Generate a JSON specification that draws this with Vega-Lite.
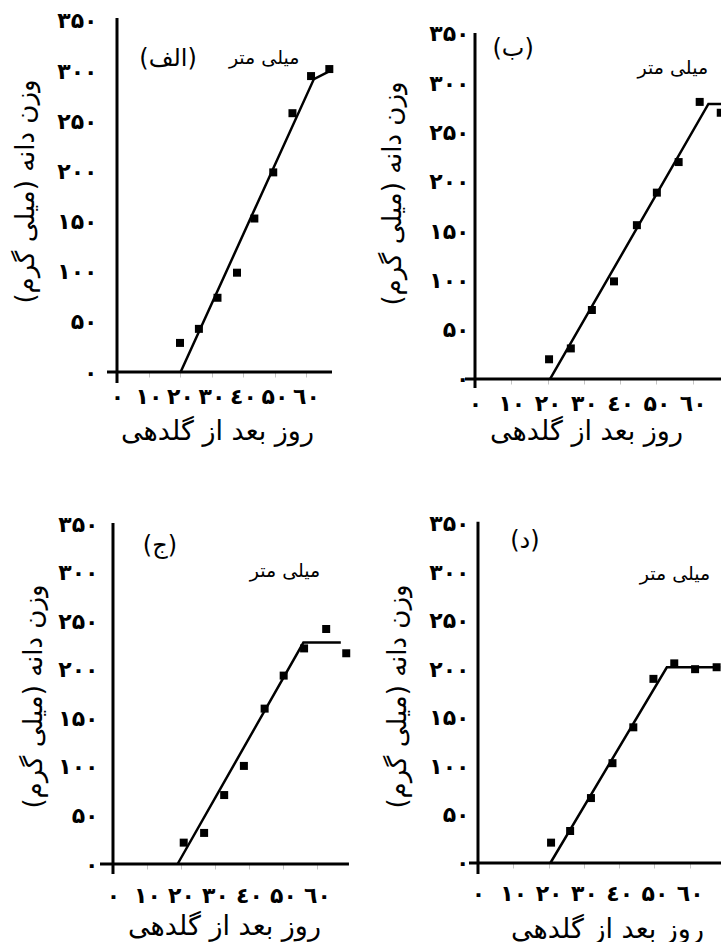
{
  "$schema": "https://vega.github.io/schema/vega-lite/v6.json",
  "background": "white",
  "padding": {"left": 12, "top": 9, "right": 0, "bottom": 0},
  "config": {
    "view": {"stroke": null},
    "axis": {"grid": false, "domain": false, "labelFont": "DejaVu Sans", "titleFont": "DejaVu Sans", "labelColor": "black", "titleColor": "black", "labelOverlap": false, "labelFlush": false, "labelBound": false, "titleFontWeight": "normal", "labelFontWeight": "bold"},
    "axisX": {"tickColor": "#c4c4c4", "tickSize": 5, "tickWidth": 1, "labelFontSize": 22, "titleFontSize": 27, "titleBaseline": "middle", "titleAlign": "center", "labelBaseline": "top"},
    "axisY": {"ticks": false, "tickSize": 0, "labelFontSize": 22, "titleFontSize": 26, "titleBaseline": "middle", "titleAlign": "center", "titleAngle": 270, "labelAlign": "right", "labelBaseline": "middle"},
    "text": {"font": "DejaVu Sans"}
  },
  "datasets": {
    "origin": [{"panel": "A", "day": 0, "weight": 0}, {"panel": "B", "day": 0, "weight": 0}, {"panel": "C", "day": 0, "weight": 0}, {"panel": "D", "day": 0, "weight": 0}],
    "points": [
      {"panel": "A", "day": 20.0, "weight": 29}, {"panel": "A", "day": 26.0, "weight": 43}, {"panel": "A", "day": 31.9, "weight": 74},
      {"panel": "A", "day": 38.1, "weight": 99}, {"panel": "A", "day": 43.6, "weight": 153}, {"panel": "A", "day": 49.6, "weight": 199},
      {"panel": "A", "day": 55.7, "weight": 258}, {"panel": "A", "day": 61.6, "weight": 295}, {"panel": "A", "day": 67.4, "weight": 302},
      {"panel": "B", "day": 20.4, "weight": 20}, {"panel": "B", "day": 26.4, "weight": 31}, {"panel": "B", "day": 32.2, "weight": 70},
      {"panel": "B", "day": 38.3, "weight": 99}, {"panel": "B", "day": 44.6, "weight": 156}, {"panel": "B", "day": 50.1, "weight": 189},
      {"panel": "B", "day": 56.1, "weight": 220}, {"panel": "B", "day": 61.9, "weight": 281}, {"panel": "B", "day": 67.7, "weight": 270},
      {"panel": "C", "day": 20.8, "weight": 22}, {"panel": "C", "day": 26.8, "weight": 32}, {"panel": "C", "day": 32.7, "weight": 71},
      {"panel": "C", "day": 38.5, "weight": 101}, {"panel": "C", "day": 44.6, "weight": 160}, {"panel": "C", "day": 50.2, "weight": 194},
      {"panel": "C", "day": 56.2, "weight": 222}, {"panel": "C", "day": 62.7, "weight": 242}, {"panel": "C", "day": 68.6, "weight": 217},
      {"panel": "D", "day": 20.7, "weight": 21}, {"panel": "D", "day": 26.1, "weight": 33}, {"panel": "D", "day": 32.0, "weight": 67},
      {"panel": "D", "day": 38.1, "weight": 103}, {"panel": "D", "day": 44.0, "weight": 140}, {"panel": "D", "day": 49.7, "weight": 190},
      {"panel": "D", "day": 55.6, "weight": 206}, {"panel": "D", "day": 61.5, "weight": 200}, {"panel": "D", "day": 67.6, "weight": 202}
    ],
    "fit": [
      {"panel": "A", "day": 20.2, "weight": 0}, {"panel": "A", "day": 62.5, "weight": 292}, {"panel": "A", "day": 67.5, "weight": 300},
      {"panel": "B", "day": 20.7, "weight": 0}, {"panel": "B", "day": 64.3, "weight": 279}, {"panel": "B", "day": 68.5, "weight": 279},
      {"panel": "C", "day": 19.0, "weight": 0}, {"panel": "C", "day": 56.0, "weight": 228}, {"panel": "C", "day": 67.0, "weight": 228},
      {"panel": "D", "day": 20.5, "weight": 0}, {"panel": "D", "day": 53.5, "weight": 202}, {"panel": "D", "day": 68.6, "weight": 202}
    ],
    "notes": [
      {"panel": "A", "kind": "unit", "label": "میلی متر", "day": 46.7, "weight": 313}, {"panel": "A", "kind": "tag", "label": "(الف)", "day": 16.2, "weight": 312},
      {"panel": "B", "kind": "unit", "label": "میلی متر", "day": 54.5, "weight": 315}, {"panel": "B", "kind": "tag", "label": "(ب)", "day": 10.5, "weight": 335},
      {"panel": "C", "kind": "unit", "label": "میلی متر", "day": 50.6, "weight": 302}, {"panel": "C", "kind": "tag", "label": "(ج)", "day": 13.8, "weight": 327},
      {"panel": "D", "kind": "unit", "label": "میلی متر", "day": 55.8, "weight": 298}, {"panel": "D", "kind": "tag", "label": "(د)", "day": 13.3, "weight": 332}
    ]
  },
  "bounds": "flush",
  "columns": 2,
  "spacing": {"row": 133, "column": 109},
  "concat": [
    {
      "width": 256, "height": 370,
      "encoding": {
        "x": {"field": "day", "type": "quantitative", "scale": {"domain": [-5.397, 75.87], "nice": false, "zero": false},
          "axis": {"values": [0, 10, 20, 30, 40, 50, 60], "offset": -16, "labelPadding": 9, "title": "روز بعد از گلدهی", "titleX": 117, "titleY": 59,
            "labelExpr": "datum.value==0?'۰':datum.value==10?'۱۰':datum.value==20?'۲۰':datum.value==30?'۳۰':datum.value==40?'٤۰':datum.value==50?'۵۰':'٦۰'"}},
        "y": {"field": "weight", "type": "quantitative", "scale": {"domain": [-15.95, 352.9], "nice": false, "zero": false},
          "axis": {"values": [0, 50, 100, 150, 200, 250, 300, 350], "labelPadding": 3, "title": "وزن دانه (میلی گرم)\u200f", "titleX": -75, "titleY": 173,
            "labelExpr": "datum.value==0?'۰\u00a0\u00a0':datum.value==50?'۵۰':datum.value==100?'۱۰۰':datum.value==150?'۱۵۰':datum.value==200?'۲۰۰':datum.value==250?'۲۵۰':datum.value==300?'۳۰۰':'۳۵۰'"}}
      },
      "layer": [
        {"data": {"name": "origin"}, "transform": [{"filter": "datum.panel == 'A'"}], "mark": {"type": "rule", "stroke": "black", "strokeWidth": 3}, "encoding": {"x": {"datum": 0}, "y": {"datum": -11}, "y2": {"datum": 352.9}}},
        {"data": {"name": "origin"}, "transform": [{"filter": "datum.panel == 'A'"}], "mark": {"type": "rule", "stroke": "black", "strokeWidth": 3}, "encoding": {"y": {"datum": 0}, "x": {"datum": -3.17}, "x2": {"datum": 68.25}}},
        {"data": {"name": "fit"}, "transform": [{"filter": "datum.panel == 'A'"}], "mark": {"type": "line", "color": "black", "strokeWidth": 2.5}},
        {"data": {"name": "points"}, "transform": [{"filter": "datum.panel == 'A'"}], "mark": {"type": "point", "shape": "square", "filled": true, "size": 64, "color": "black", "opacity": 1}},
        {"data": {"name": "notes"}, "transform": [{"filter": "datum.panel == 'A'"}], "mark": {"type": "text", "color": "black", "font": "DejaVu Sans"},
          "encoding": {"text": {"field": "label"}, "size": {"field": "kind", "type": "nominal", "scale": {"domain": ["tag", "unit"], "range": [24, 19]}, "legend": null}}}
      ]
    },
    {
      "width": 256, "height": 370,
      "encoding": {
        "x": {"field": "day", "type": "quantitative", "scale": {"domain": [-2.755, 67.77], "nice": false, "zero": false},
          "axis": {"values": [0, 10, 20, 30, 40, 50, 60], "offset": -9, "labelPadding": 9, "title": "روز بعد از گلدهی", "titleX": 121, "titleY": 52,
            "labelExpr": "datum.value==0?'۰':datum.value==10?'۱۰':datum.value==20?'۲۰':datum.value==30?'۳۰':datum.value==40?'٤۰':datum.value==50?'۵۰':'٦۰'"}},
        "y": {"field": "weight", "type": "quantitative", "scale": {"domain": [-9.13, 366.1], "nice": false, "zero": false},
          "axis": {"values": [0, 50, 100, 150, 200, 250, 300, 350], "labelPadding": -4, "title": "وزن دانه (میلی گرم)\u200f", "titleX": -73, "titleY": 175,
            "labelExpr": "datum.value==0?'۰\u00a0\u00a0\u00a0':datum.value==50?'۵۰':datum.value==100?'۱۰۰':datum.value==150?'۱۵۰':datum.value==200?'۲۰۰':datum.value==250?'۲۵۰':datum.value==300?'۳۰۰':'۳۵۰'"}}
      },
      "layer": [
        {"data": {"name": "origin"}, "transform": [{"filter": "datum.panel == 'B'"}], "mark": {"type": "rule", "stroke": "black", "strokeWidth": 3}, "encoding": {"x": {"datum": 0}, "y": {"datum": -9.13}, "y2": {"datum": 351}}},
        {"data": {"name": "origin"}, "transform": [{"filter": "datum.panel == 'B'"}], "mark": {"type": "rule", "stroke": "black", "strokeWidth": 3}, "encoding": {"y": {"datum": 0}, "x": {"datum": -2.755}, "x2": {"datum": 67.77}}},
        {"data": {"name": "fit"}, "transform": [{"filter": "datum.panel == 'B'"}], "mark": {"type": "line", "color": "black", "strokeWidth": 2.5, "clip": true}},
        {"data": {"name": "points"}, "transform": [{"filter": "datum.panel == 'B'"}], "mark": {"type": "point", "shape": "square", "filled": true, "size": 64, "color": "black", "opacity": 1, "clip": true}},
        {"data": {"name": "notes"}, "transform": [{"filter": "datum.panel == 'B'"}], "mark": {"type": "text", "color": "black", "font": "DejaVu Sans"},
          "encoding": {"text": {"field": "label"}, "size": {"field": "kind", "type": "nominal", "scale": {"domain": ["tag", "unit"], "range": [24, 19]}, "legend": null}}}
      ]
    },
    {
      "width": 256, "height": 370,
      "encoding": {
        "x": {"field": "day", "type": "quantitative", "scale": {"domain": [-3.82, 71.47], "nice": false, "zero": false},
          "axis": {"values": [0, 10, 20, 30, 40, 50, 60], "offset": -27, "labelPadding": 16, "title": "روز بعد از گلدهی", "titleX": 124, "titleY": 62,
            "labelExpr": "datum.value==0?'۰':datum.value==10?'۱۰':datum.value==20?'۲۰':datum.value==30?'۳۰':datum.value==40?'٤۰':datum.value==50?'۵۰':'٦۰'"}},
        "y": {"field": "weight", "type": "quantitative", "scale": {"domain": [-27.8, 353.2], "nice": false, "zero": false},
          "axis": {"values": [0, 50, 100, 150, 200, 250, 300, 350], "labelPadding": 2, "title": "وزن دانه (میلی گرم)\u200f", "titleX": -67, "titleY": 175,
            "labelExpr": "datum.value==0?'۰\u00a0\u00a0':datum.value==50?'۵۰':datum.value==100?'۱۰۰':datum.value==150?'۱۵۰':datum.value==200?'۲۰۰':datum.value==250?'۲۵۰':datum.value==300?'۳۰۰':'۳۵۰'"}}
      },
      "layer": [
        {"data": {"name": "origin"}, "transform": [{"filter": "datum.panel == 'C'"}], "mark": {"type": "rule", "stroke": "black", "strokeWidth": 3}, "encoding": {"x": {"datum": 0}, "y": {"datum": -10.3}, "y2": {"datum": 351.2}}},
        {"data": {"name": "origin"}, "transform": [{"filter": "datum.panel == 'C'"}], "mark": {"type": "rule", "stroke": "black", "strokeWidth": 3}, "encoding": {"y": {"datum": 0}, "x": {"datum": -3.82}, "x2": {"datum": 69.4}}},
        {"data": {"name": "fit"}, "transform": [{"filter": "datum.panel == 'C'"}], "mark": {"type": "line", "color": "black", "strokeWidth": 2.5}},
        {"data": {"name": "points"}, "transform": [{"filter": "datum.panel == 'C'"}], "mark": {"type": "point", "shape": "square", "filled": true, "size": 64, "color": "black", "opacity": 1}},
        {"data": {"name": "notes"}, "transform": [{"filter": "datum.panel == 'C'"}], "mark": {"type": "text", "color": "black", "font": "DejaVu Sans"},
          "encoding": {"text": {"field": "label"}, "size": {"field": "kind", "type": "nominal", "scale": {"domain": ["tag", "unit"], "range": [24, 19]}, "legend": null}}}
      ]
    },
    {
      "width": 256, "height": 370,
      "encoding": {
        "x": {"field": "day", "type": "quantitative", "scale": {"domain": [-3.68, 68.84], "nice": false, "zero": false},
          "axis": {"values": [0, 10, 20, 30, 40, 50, 60], "offset": -28, "labelPadding": 15, "title": "روز بعد از گلدهی", "titleX": 142, "titleY": 66,
            "labelExpr": "datum.value==0?'۰':datum.value==10?'۱۰':datum.value==20?'۲۰':datum.value==30?'۳۰':datum.value==40?'٤۰':datum.value==50?'۵۰':'٦۰'"}},
        "y": {"field": "weight", "type": "quantitative", "scale": {"domain": [-28.9, 352.9], "nice": false, "zero": false},
          "axis": {"values": [0, 50, 100, 150, 200, 250, 300, 350], "labelPadding": -4, "title": "وزن دانه (میلی گرم)\u200f", "titleX": -68, "titleY": 175,
            "labelExpr": "datum.value==0?'۰\u00a0\u00a0':datum.value==50?'۵۰':datum.value==100?'۱۰۰':datum.value==150?'۱۵۰':datum.value==200?'۲۰۰':datum.value==250?'۲۵۰':datum.value==300?'۳۰۰':'۳۵۰'"}}
      },
      "layer": [
        {"data": {"name": "origin"}, "transform": [{"filter": "datum.panel == 'D'"}], "mark": {"type": "rule", "stroke": "black", "strokeWidth": 3}, "encoding": {"x": {"datum": 0}, "y": {"datum": -11.35}, "y2": {"datum": 352}}},
        {"data": {"name": "origin"}, "transform": [{"filter": "datum.panel == 'D'"}], "mark": {"type": "rule", "stroke": "black", "strokeWidth": 3}, "encoding": {"y": {"datum": 0}, "x": {"datum": -2.55}, "x2": {"datum": 68.84}}},
        {"data": {"name": "fit"}, "transform": [{"filter": "datum.panel == 'D'"}], "mark": {"type": "line", "color": "black", "strokeWidth": 2.5}},
        {"data": {"name": "points"}, "transform": [{"filter": "datum.panel == 'D'"}], "mark": {"type": "point", "shape": "square", "filled": true, "size": 64, "color": "black", "opacity": 1}},
        {"data": {"name": "notes"}, "transform": [{"filter": "datum.panel == 'D'"}], "mark": {"type": "text", "color": "black", "font": "DejaVu Sans"},
          "encoding": {"text": {"field": "label"}, "size": {"field": "kind", "type": "nominal", "scale": {"domain": ["tag", "unit"], "range": [24, 19]}, "legend": null}}}
      ]
    }
  ]
}
